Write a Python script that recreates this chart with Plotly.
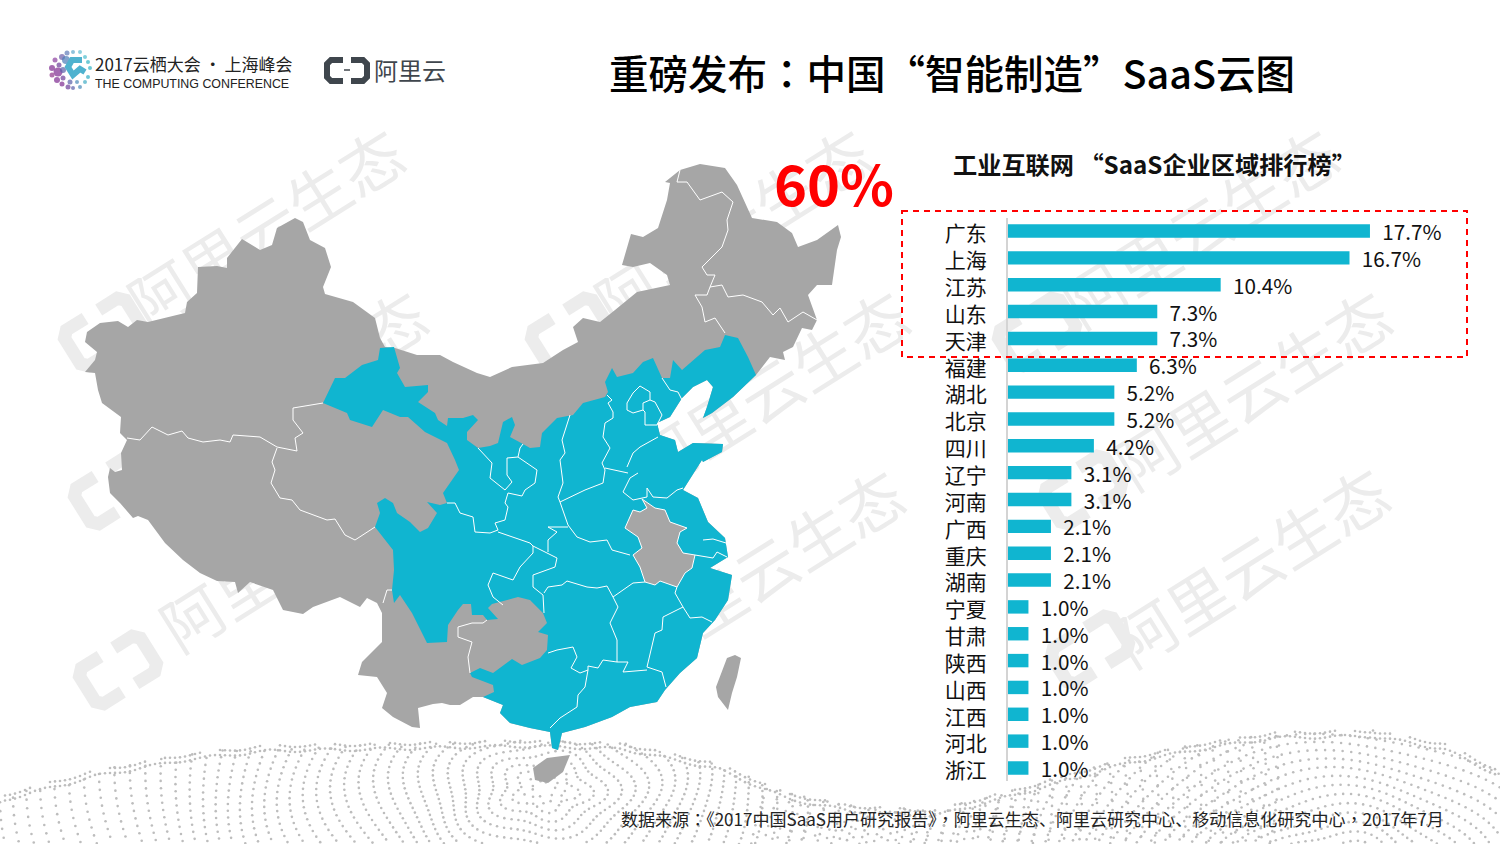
import numpy as np
import plotly.graph_objects as go

FONT = "Noto Sans CJK SC"
TEAL = "#10b5d0"
GREY = "#a6a6a6"
WM = "#ececec"

# bar chart data
provinces = ["广东", "上海", "江苏", "山东", "天津", "福建", "湖北", "北京", "四川", "辽宁", "河南",
             "广西", "重庆", "湖南", "宁夏", "甘肃", "陕西", "山西", "江西", "河北", "浙江"]
shares = [17.7, 16.7, 10.4, 7.3, 7.3, 6.3, 5.2, 5.2, 4.2, 3.1, 3.1,
          2.1, 2.1, 2.1, 1.0, 1.0, 1.0, 1.0, 1.0, 1.0, 1.0]

# map outlines, in page pixels
mainland = [(295,218),(303,222),(310,240),(325,248),(331,267),(323,287),(325,294),(353,302),(375,318),(380,338),
    (385,347),(395,348),(417,355),(440,355),(453,362),(477,373),(490,377),(512,367),(543,363),(563,350),(578,342),
    (573,327),(583,318),(600,322),(615,310),(637,292),(670,285),(667,275),(650,263),(633,267),(622,265),(631,234),
    (643,237),(658,228),(667,200),(670,183),(665,182),(680,170),(700,164),(725,168),(737,185),(752,218),(777,222),
    (792,233),(798,247),(817,240),(838,225),(841,237),(837,250),(832,285),(817,285),(808,295),(817,320),(812,330),
    (802,328),(793,347),(783,352),(785,360),(770,357),(756,375),(733,397),(712,413),(703,418),(707,407),(713,387),
    (707,380),(693,387),(682,398),(670,417),(657,423),(660,435),(675,440),(678,452),(693,443),(723,444),(722,452),
    (703,462),(702,460),(683,490),(698,498),(708,522),(725,538),(728,557),(710,568),(732,575),(728,600),(715,620),
    (703,633),(697,658),(680,673),(665,690),(657,702),(630,707),(612,717),(585,727),(562,733),(558,750),(552,748),
    (550,732),(530,728),(510,723),(500,713),(503,705),(483,697),(473,697),(460,705),(450,705),(442,703),(433,704),
    (418,708),(420,728),(412,727),(393,717),(382,708),(387,693),(377,677),(358,675),(362,662),(382,642),(382,613),
    (377,603),(367,598),(360,607),(340,597),(313,607),(303,614),(283,610),(273,590),(250,582),(238,593),(235,582),
    (217,581),(200,573),(183,560),(165,543),(148,520),(138,516),(133,518),(120,503),(110,493),(108,477),(110,468),
    (115,472),(122,470),(121,453),(127,440),(120,433),(121,417),(102,403),(98,390),(95,373),(85,372),(95,360),
    (97,352),(85,342),(87,332),(100,323),(118,321),(128,327),(137,320),(148,322),(185,313),(187,302),(197,293),
    (198,267),(217,266),(227,268),(227,258),(242,239),(260,250),(272,245),(277,228)]
teal_block = [(380,348),(394,347),(400,368),(397,373),(405,387),(428,385),(428,392),(418,402),(435,413),(438,420),
    (447,426),(448,418),(463,418),(473,415),(478,420),(467,432),(467,440),(478,448),(490,446),(498,443),(503,422),
    (512,417),(515,425),(510,437),(523,444),(530,448),(540,447),(542,433),(557,418),(570,415),(573,415),(583,403),
    (605,397),(608,392),(605,382),(612,368),(617,377),(633,373),(643,362),(653,358),(662,378),(670,378),(673,360),
    (682,370),(705,350),(720,347),(725,335),(738,338),(748,357),(756,375),(733,397),(712,413),(703,418),(707,407),
    (713,387),(707,380),(693,387),(682,398),(670,417),(657,423),(660,435),(675,440),(678,452),(693,443),(723,444),
    (722,452),(703,462),(702,460),(683,490),(698,498),(708,522),(725,538),(728,557),(710,568),(732,575),(728,600),
    (715,620),(703,633),(697,658),(680,673),(665,690),(657,702),(630,707),(612,717),(585,727),(562,733),(558,750),
    (552,748),(550,732),(530,728),(510,723),(500,713),(503,705),(483,697),(494,692),(493,685),(472,677),(470,673),
    (480,668),(493,673),(512,659),(522,665),(540,658),(547,650),(548,635),(538,632),(547,623),(543,613),(530,600),
    (518,597),(492,604),(488,608),(498,619),(487,620),(483,615),(472,615),(471,604),(463,604),(458,610),(448,625),
    (447,642),(427,643),(412,613),(400,595),(394,603),(392,590),(394,570),(393,550),(375,527),(380,513),(377,503),
    (385,498),(393,503),(397,513),(410,522),(420,532),(428,528),(437,513),(427,502),(440,505),(447,503),(443,493),
    (459,470),(455,460),(447,443),(425,432),(408,417),(400,417),(383,410),(372,427),(350,420),(347,413),(323,403),
    (335,378),(345,378),(362,365),(378,360)]
anhui = [(642,499),(655,508),(665,510),(670,522),(687,528),(680,532),(677,543),(683,553),(695,555),(692,568),(685,573),
    (677,587),(660,581),(655,585),(645,582),(640,567),(633,555),(642,548),(638,537),(625,528),(633,510),(640,512),(647,508)]
taiwan = [(727,658),(735,655),(741,658),(737,677),(732,693),(728,710),(718,697),(716,687)]
hainan = [(533,768),(547,758),(570,755),(563,772),(548,783),(535,780)]
borders = [
    [(127,438),(140,440),(152,427),(168,435),(182,431),(188,438),(203,442),(220,440),(230,442),(233,435),(260,437),(277,447),(297,451),(295,438),(303,433),(293,420),(293,408),(323,403)],
    [(277,448),(272,462),(275,470),(271,483),(280,498),(292,500),(300,510),(327,520),(335,519),(345,535),(355,540),(375,527)],
    [(392,590),(387,590),(383,603)],
    [(447,503),(455,503),(460,513),(473,517),(475,532),(490,533),(498,530),(495,523),(505,520),(508,507),(505,503),(508,493),(522,496),(525,490),(535,483),(537,470),(518,457),(507,458),(507,475),(512,482),(505,490),(490,478),(492,463),(478,448)],
    [(518,457),(520,448),(523,444)],
    [(498,532),(513,537),(530,543),(533,546),(557,558),(555,567),(533,575),(533,587),(543,595),(544,613)],
    [(533,546),(533,553),(520,567),(513,580),(493,573),(488,585),(493,597),(503,605)],
    [(570,415),(562,440),(565,453),(560,460),(563,483),(558,497),(560,502),(568,525),(577,537),(590,542),(607,540),(612,550),(630,555)],
    [(560,502),(585,490),(603,483),(605,470),(602,463),(610,448),(603,437),(605,423),(613,418),(613,412),(608,403),(612,400),(607,395)],
    [(605,468),(628,473)],
    [(627,467),(633,453),(640,447),(658,437)],
    [(638,473),(630,478),(623,492),(633,500),(647,497),(647,488),(653,497),(667,498),(677,490),(683,488)],
    [(568,527),(548,527),(557,532),(548,540),(548,552)],
    [(544,593),(548,587),(562,585),(567,581),(587,587),(597,588),(607,586),(613,597),(633,583),(645,582)],
    [(613,597),(618,607),(610,623),(617,640),(617,662),(628,662),(623,672),(647,670)],
    [(677,587),(675,593),(683,607),(663,617),(662,630),(655,633),(647,667),(662,672),(666,687)],
    [(683,607),(690,618),(702,617),(712,622)],
    [(617,662),(603,660),(598,668),(588,666),(588,670),(580,673),(571,668),(577,657),(573,647),(557,650),(548,653)],
    [(588,670),(585,687),(578,695),(577,707),(560,718),(550,728)],
    [(640,386),(650,392),(650,400),(643,403),(643,410),(633,413),(627,410),(627,403),(633,393),(640,386)],
    [(650,400),(655,402),(662,415),(657,425),(645,425),(645,412),(643,410)],
    [(662,378),(670,390),(678,392),(682,400)],
    [(680,170),(677,182),(687,182),(700,200),(722,192),(733,202),(727,220),(728,230),(722,247),(702,267),(707,275),(715,275),(710,287),(707,295),(695,295),(702,307),(705,322),(715,318),(725,333)],
    [(710,287),(722,285),(728,297),(743,295),(762,302),(773,315),(780,308),(788,322),(803,312),(817,320)],
    [(458,627),(458,637),(472,642),(468,657),(470,673)],
    [(458,627),(472,623),(483,623),(487,620)],
    [(695,555),(713,558),(717,552),(727,557)],
    [(703,540),(713,539),(726,543)],
]

# outline of the two dotted hills at the bottom
hill_x = [0, 96, 191, 268, 383, 526, 622, 718, 750, 788, 850, 934, 1012, 1090, 1128, 1201, 1274, 1371, 1444, 1500]
hill_y = [795, 770, 753, 745, 743, 740, 743, 763, 777, 793, 805, 810, 790, 768, 757, 743, 732, 730, 743, 770]

# little dots of the conference logo: x, y, size, colour
logo_x = [52, 55, 58, 52, 57, 63, 62, 68, 73, 80, 70, 77, 59, 62, 67, 73, 80, 85, 88, 90, 88, 85, 66, 63]
logo_y = [68, 60, 72, 75, 80, 78, 84, 87, 88, 87, 82, 82, 65, 57, 53, 52, 52, 57, 62, 68, 77, 82, 60, 70]
logo_size = [6, 5, 9, 5, 6, 5, 5, 5, 4, 4, 5, 4, 5, 6, 5, 4, 4, 4, 4, 4, 4, 4, 8, 6]
logo_color = ["#7e2a90", "#8b3fa0", "#7e2a90", "#90348c", "#7e2a90", "#6c3d98", "#7e2a90", "#6c3d98", "#5a5fa8",
              "#4a8ab8", "#5a5fa8", "#4a8ab8", "#6c3d98", "#6c5ca8", "#5f7bb8", "#5fa8cc", "#5fbcd2", "#4cbccc",
              "#30b4c4", "#30b4c4", "#30acc4", "#40acc4", "#4a7cb8", "#5a5fa8"]


def xy(points):
    xs, ys = [], []
    for x, y in points:
        xs.append(x)
        ys.append(y)
    return xs + [xs[0]], ys + [ys[0]]


def hill_dots():
    # background texture only: wobbly rings of dots clipped to the hill outline
    xs, ys = [], []
    for cx, cy, top in [(545, 790, 640), (1340, 880, 520)]:
        for r in np.arange(14, top, 12.0):
            n = int(2 * np.pi * r / (5.0 + r / 70))
            a = np.linspace(0, 2 * np.pi, n, endpoint=False) + r * 0.37
            wob = r + 5 * np.sin(5 * a + r / 40)
            xs.append(cx + wob * np.cos(a) * 1.15)
            ys.append(cy + wob * np.sin(a) * 0.75)
    # the rim of each hill is crowded in the picture
    for off in (1, 6):
        rim_x = np.arange(0, 1500, 5.0)
        xs.append(rim_x)
        ys.append(np.interp(rim_x, hill_x, hill_y) + off + 1.5 * np.sin(rim_x / 9))
    xs, ys = np.concatenate(xs), np.concatenate(ys)
    keep = (xs > 0) & (xs < 1500) & (ys < 844) & (ys >= np.interp(xs, hill_x, hill_y))
    return xs[keep], ys[keep]


def mark_path(cx, cy, pts, angle=-32):
    a = np.radians(angle)
    out = []
    for i, (px, py) in enumerate(pts):
        rx = cx + px * np.cos(a) - py * np.sin(a)
        ry = cy + px * np.sin(a) + py * np.cos(a)
        out.append(("M" if i == 0 else "L") + f"{rx:.1f},{ry:.1f}")
    return " ".join(out)


def line_path(pts):
    return " ".join(("M" if i == 0 else "L") + f"{x},{y}" for i, (x, y) in enumerate(pts))


def centred(text):
    # the TC cut centres full width punctuation, as the picture does
    for mark in "：，":
        text = text.replace(mark, '<span style="font-family:Noto Sans CJK TC">%s</span>' % mark)
    return text


fig = go.Figure()

dx, dy = hill_dots()
fig.add_trace(go.Scatter(x=dx, y=dy, mode="markers", marker=dict(size=2.6, color="#bdbdbd"), hoverinfo="skip"))

for poly, color, edge in [(mainland, GREY, 0), (teal_block, TEAL, 0), (anhui, GREY, 1), (taiwan, GREY, 0), (hainan, GREY, 0)]:
    px, py = xy(poly)
    fig.add_trace(go.Scatter(x=px, y=py, mode="lines", fill="toself", fillcolor=color,
                             line=dict(color="white" if edge else color, width=edge), hoverinfo="skip"))

bx, by = [], []
for seg in borders:
    bx += [p[0] for p in seg] + [None]
    by += [p[1] for p in seg] + [None]
fig.add_trace(go.Scatter(x=bx, y=by, mode="lines", line=dict(color="white", width=1), hoverinfo="skip"))

fig.add_trace(go.Scatter(x=logo_x, y=logo_y, mode="markers",
                         marker=dict(size=logo_size, color=logo_color, line=dict(width=0)), hoverinfo="skip"))

fig.add_trace(go.Bar(x=shares, y=provinces, orientation="h", xaxis="x2", yaxis="y2", width=0.5,
                     marker=dict(color=TEAL, line=dict(width=0)),
                     text=["\u00a0\u00a0%.1f%%" % v for v in shares], textposition="outside", constraintext="none",
                     textfont=dict(family=FONT, size=20.7, color="#111111"), cliponaxis=False, hoverinfo="skip"))

# watermarks sit under everything, so they go in as shapes
shapes = []
wm_rows = [(270, 234, 103, 332), (737, 234, 570, 332), (1204, 234, 1037, 332),
           (293, 396, 113, 490), (775, 396, 598, 490), (1257, 396, 1083, 490),
           (302, 558, 118, 670), (770, 575, 640, 660), (1255, 573, 1090, 650)]
left_br = [(-8, -21), (-30, -21), (-36, -15), (-36, 15), (-30, 21), (-8, 21)]
right_br = [(8, -21), (30, -21), (36, -15), (36, 15), (30, 21), (8, 21)]
for cx, cy, lx, ly in wm_rows:
    shapes.append(dict(type="rect", xref="x", yref="y", x0=cx - 30, x1=cx + 30, y0=cy - 30, y1=cy + 30, layer="below",
                       line=dict(width=0), fillcolor="rgba(0,0,0,0)",
                       label=dict(text="阿里云生态", textangle=-32, textposition="middle center",
                                  font=dict(family=FONT, size=62, color=WM))))
    for br in (left_br, right_br):
        shapes.append(dict(type="path", xref="x", yref="y", layer="below", path=mark_path(lx, ly, br),
                           line=dict(color=WM, width=13)))

# Aliyun bracket logo, top left
shapes.append(dict(type="path", xref="x", yref="y", path=line_path([(343,60),(331,60),(327,64),(327,77),(331,81),(343,81)]),
                   line=dict(color="#3f464d", width=6)))
shapes.append(dict(type="path", xref="x", yref="y", path=line_path([(351,60),(363,60),(367,64),(367,77),(363,81),(351,81)]),
                   line=dict(color="#3f464d", width=6)))
shapes.append(dict(type="path", xref="x", yref="y", path=line_path([(344,70),(350,70)]), line=dict(color="#3f464d", width=1.5)))
shapes.append(dict(type="path", xref="x", yref="y", path=line_path([(82,60),(72,60),(68,67),(73,75),(80,69),(85,72)]),
                   line=dict(color="#4fb2cf", width=6)))
# dashed box around the top five
shapes.append(dict(type="rect", xref="x", yref="y", x0=902, x1=1467, y0=211, y1=357,
                   line=dict(color="#ff0000", width=2, dash="6px,5px")))


def label(x, y, text, size, color="#111111", anchor="left", family=FONT, weight=None):
    return dict(x=x, y=y, xref="x", yref="y", text=text, showarrow=False, xanchor=anchor, yanchor="middle",
                font=dict(family=family, size=size, color=color, weight=weight))


annotations = [
    label(952, 71, centred("重磅发布：中国“智能制造”SaaS云图"), 39.5, "#000000", "center", weight=500),
    label(93, 63, "2017云栖大会\u2009·\u2009上海峰会", 17, "#222222"),
    label(93, 84, "THE COMPUTING CONFERENCE", 12.4, "#222222", family="Liberation Sans"),
    label(372, 69, "阿里云", 24, "#3f464d"),
    label(772, 181, "<b>60%</b>", 56, "#ff0000"),
    label(951, 163, "<b>工业互联网 “SaaS企业区域排行榜”</b>", 24.2, "#111111"),
    label(619, 818, centred("数据来源：《2017中国SaaS用户研究报告》，阿里云生态、阿里云研究中心、移动信息化研究中心，2017年7月"), 17.05, "#222222"),
]

fig.update_layout(
    width=1500, height=844, margin=dict(l=0, r=0, t=0, b=0), autosize=False,
    paper_bgcolor="white", plot_bgcolor="rgba(0,0,0,0)", showlegend=False,
    shapes=shapes, annotations=annotations,
    xaxis=dict(domain=[0, 1], range=[0, 1500], visible=False, automargin=False),
    yaxis=dict(domain=[0, 1], range=[844, 0], visible=False, automargin=False),
    xaxis2=dict(domain=[1008 / 1500, (1008 + 20 * 20.45) / 1500], range=[0, 20], visible=False, anchor="y2", automargin=False),
    yaxis2=dict(domain=[1 - 781.4 / 844, 1 - 217.6 / 844], range=[20.5, -0.5], type="category", anchor="x2",
                categoryorder="array", categoryarray=provinces, showgrid=False, zeroline=False, automargin=False,
                showline=True, linecolor="#d4d4d4", linewidth=2, ticks="",
                ticklabelstandoff=15, ticklabelshift=-3,
                tickfont=dict(family=FONT, size=21, color="#111111")),
)

fig.write_html("out.html", config=dict(displayModeBar=False),
               post_script="document.body.style.margin='0';document.documentElement.style.overflow='hidden';")
